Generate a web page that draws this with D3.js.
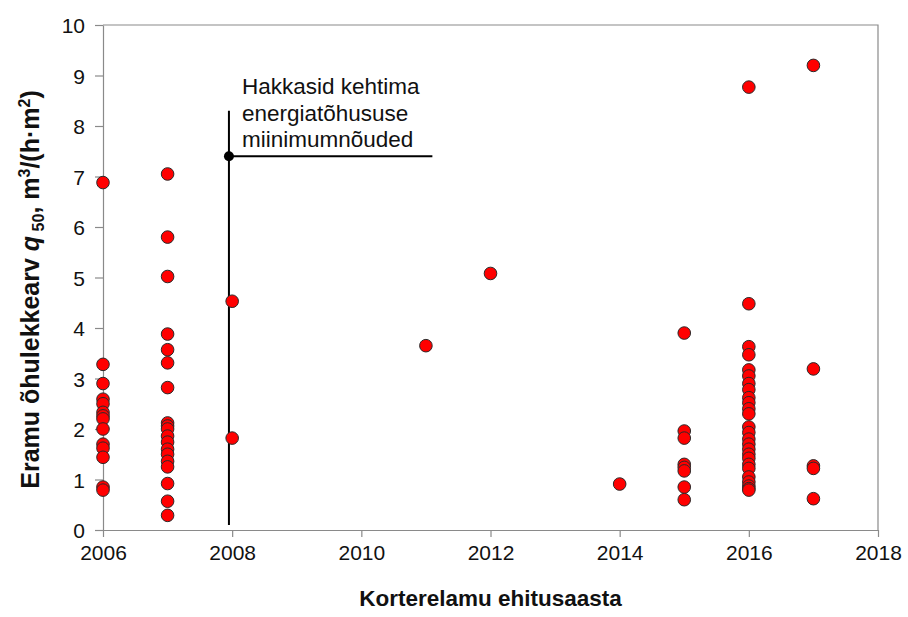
<!DOCTYPE html>
<html>
<head>
<meta charset="utf-8">
<script src="https://cdn.jsdelivr.net/npm/d3@7"></script>
<style>
  html, body { margin: 0; padding: 0; background: #fff; }
  svg { display: block; font-family: "Liberation Sans", Arial, sans-serif; }
</style>
</head>
<body>
<svg id="chart" width="908" height="617"></svg>
<script>
// Building year of each apartment block
const years2006 = [2006, 2006, 2006, 2006, 2006, 2006, 2006, 2006, 2006, 2006, 2006, 2006, 2006, 2006];
const q50_2006 = [6.88, 3.28, 2.9, 2.59, 2.5, 2.33, 2.26, 2.2, 2.0, 1.7, 1.62, 1.44, 0.85, 0.79];

const years2007 = [2007, 2007, 2007, 2007, 2007, 2007, 2007, 2007, 2007, 2007, 2007, 2007, 2007, 2007, 2007, 2007, 2007, 2007, 2007];
const q50_2007 = [7.05, 5.8, 5.02, 3.88, 3.57, 3.31, 2.82, 2.12, 2.06, 2.0, 1.86, 1.74, 1.6, 1.5, 1.36, 1.25, 0.92, 0.57, 0.29];

const yearsOther = [2008, 2008, 2011, 2012, 2014,
  2015, 2015, 2015, 2015, 2015, 2015, 2015, 2015,
  2017, 2017, 2017, 2017, 2017];
const q50Other = [4.53, 1.82, 3.65, 5.08, 0.91,
  3.9, 1.96, 1.82, 1.3, 1.24, 1.17, 0.85, 0.6,
  9.2, 3.19, 1.27, 1.22, 0.62];

const years2016 = Array(26).fill(2016);
const q50_2016 = [8.77, 4.48, 3.63, 3.47, 3.17, 3.05, 2.9, 2.78, 2.62, 2.52, 2.4, 2.3, 2.04, 1.93, 1.8, 1.7, 1.6, 1.5, 1.42, 1.3, 1.22, 1.05, 0.95, 0.87, 0.82, 0.79];

// Axis ticks
const xTicks = [2006, 2008, 2010, 2012, 2014, 2016, 2018];
const yTicks = [0, 1, 2, 3, 4, 5, 6, 7, 8, 9, 10];

// Marker for the year the minimum energy-performance requirements took effect
const ruleYear = [2007.95];
const ruleLineSpan = [0.1, 8.3];
const ruleLevel = [7.4];
const ruleLineEnd = [2011.1];
const ruleText = ["Hakkasid kehtima", "energiatõhususe", "miinimumnõuded"];

const points = []
  .concat(years2006.map((y, i) => ({ year: y, q: q50_2006[i] })))
  .concat(years2007.map((y, i) => ({ year: y, q: q50_2007[i] })))
  .concat(yearsOther.map((y, i) => ({ year: y, q: q50Other[i] })))
  .concat(years2016.map((y, i) => ({ year: y, q: q50_2016[i] })));

const svg = d3.select("#chart");
const margin = { left: 103, right: 30, top: 25, bottom: 87 };
const W = 908, H = 617;

const x = d3.scaleLinear().domain([2006, 2018]).range([margin.left, W - margin.right]);
const y = d3.scaleLinear().domain([0, 10]).range([H - margin.bottom, margin.top]);

const axisColor = "#8a8a8a";
const fontFamily = "Liberation Sans, Arial, sans-serif";

// Plot frame (top and right edges)
svg.append("path")
  .attr("d", `M${x(2006)},${y(10)}H${x(2018)}V${y(0)}`)
  .attr("fill", "none")
  .attr("stroke", axisColor)
  .attr("stroke-width", 1.2);

// X axis
const gx = svg.append("g")
  .attr("transform", `translate(0,${y(0)})`)
  .call(d3.axisBottom(x).tickValues(xTicks).tickFormat(d3.format("d")).tickSize(7).tickSizeOuter(0));
gx.select(".domain").attr("stroke", axisColor).attr("stroke-width", 1.2);
gx.selectAll(".tick line").attr("stroke", axisColor).attr("stroke-width", 1.2);
gx.selectAll(".tick text")
  .attr("fill", "#111")
  .attr("font-size", 21)
  .attr("font-family", fontFamily)
  .attr("y", 12)
  .attr("dy", "0.85em");

// Y axis
const gy = svg.append("g")
  .attr("transform", `translate(${x(2006)},0)`)
  .call(d3.axisLeft(y).tickValues(yTicks).tickFormat(d3.format("d")).tickSize(8).tickSizeOuter(0));
gy.select(".domain").attr("stroke", axisColor).attr("stroke-width", 1.2);
gy.selectAll(".tick line").attr("stroke", axisColor).attr("stroke-width", 1.2);
gy.selectAll(".tick text")
  .attr("fill", "#111")
  .attr("font-size", 21)
  .attr("font-family", fontFamily)
  .attr("x", -18)
  .attr("dy", "0.36em");

// Vertical marker line
svg.append("line")
  .attr("x1", x(ruleYear[0])).attr("x2", x(ruleYear[0]))
  .attr("y1", y(ruleLineSpan[0])).attr("y2", y(ruleLineSpan[1]))
  .attr("stroke", "#000").attr("stroke-width", 2);

// Data points
svg.append("g")
  .selectAll("circle")
  .data(points)
  .join("circle")
  .attr("cx", d => x(d.year))
  .attr("cy", d => y(d.q))
  .attr("r", 6.3)
  .attr("fill", "#ff0000")
  .attr("stroke", "#2a2a2a")
  .attr("stroke-width", 1);

// Horizontal leader to the note
svg.append("line")
  .attr("x1", x(ruleYear[0])).attr("x2", x(ruleLineEnd[0]))
  .attr("y1", y(ruleLevel[0])).attr("y2", y(ruleLevel[0]))
  .attr("stroke", "#000").attr("stroke-width", 2);

svg.append("circle")
  .attr("cx", x(ruleYear[0]))
  .attr("cy", y(ruleLevel[0]))
  .attr("r", 5)
  .attr("fill", "#000");

svg.append("text")
  .attr("x", x(ruleYear[0]) + 13)
  .attr("y", 94)
  .attr("font-size", 22.5)
  .attr("fill", "#111")
  .selectAll("tspan")
  .data(ruleText)
  .join("tspan")
  .attr("x", x(ruleYear[0]) + 13)
  .attr("dy", (d, i) => i === 0 ? 0 : 26.5)
  .text(d => d);

// Axis titles
svg.append("text")
  .attr("x", (x(2006) + x(2018)) / 2)
  .attr("y", 606)
  .attr("text-anchor", "middle")
  .attr("font-size", 22.5)
  .attr("font-weight", "bold")
  .attr("fill", "#111")
  .text("Korterelamu ehitusaasta");

const yTitle = svg.append("text")
  .attr("transform", `translate(39,${(y(0) + y(10)) / 2 + 12}) rotate(-90)`)
  .attr("text-anchor", "middle")
  .attr("font-size", 25)
  .attr("font-weight", "bold")
  .attr("fill", "#111");
yTitle.append("tspan").text("Eramu õhulekkearv ");
yTitle.append("tspan").attr("font-style", "italic").text("q");
yTitle.append("tspan").attr("font-size", 16).attr("dy", 5).text(" 50");
yTitle.append("tspan").attr("dy", -5).text(", m");
yTitle.append("tspan").attr("font-size", 16).attr("dy", -9).text("3");
yTitle.append("tspan").attr("dy", 9).text("/(h·m");
yTitle.append("tspan").attr("font-size", 16).attr("dy", -9).text("2");
yTitle.append("tspan").attr("dy", 9).text(")");
</script>
</body>
</html>
